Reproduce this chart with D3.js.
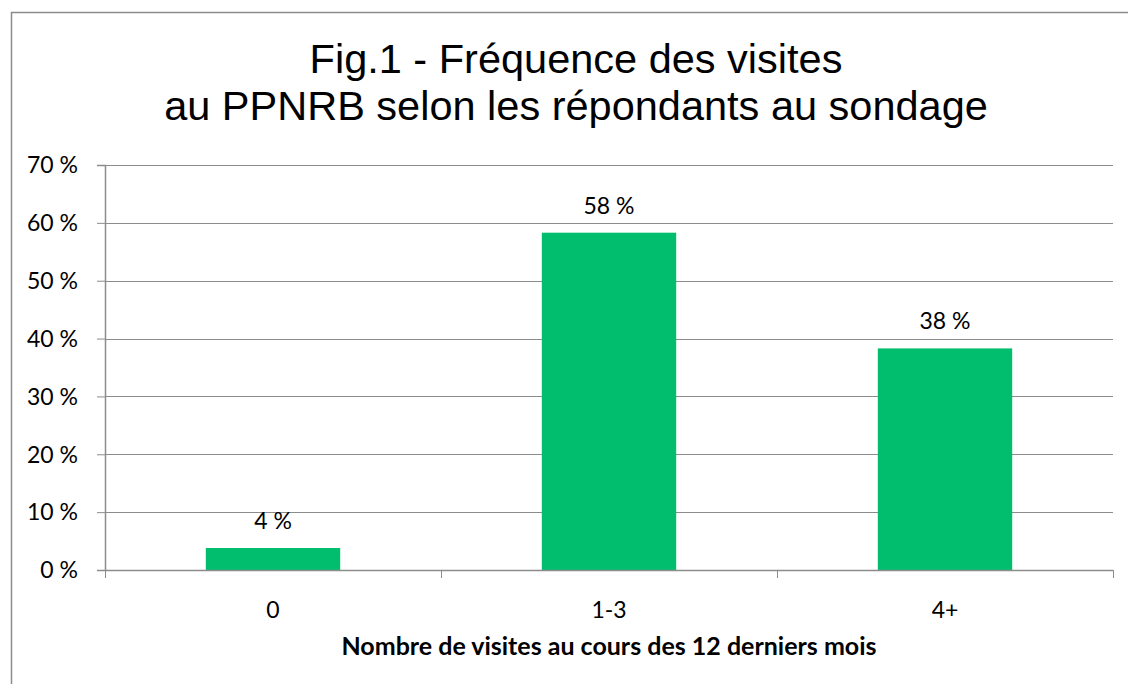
<!DOCTYPE html>
<html>
<head>
<meta charset="utf-8">
<script src="https://cdn.jsdelivr.net/npm/d3@7"></script>
<style>
  html, body { margin: 0; padding: 0; background: #fff; }
  svg { display: block; }
</style>
</head>
<body>
<div id="chart"></div>
<script>
// data
const categories = ['0', '1-3', '4+'];
const values = [3.8, 58.3, 38.3];
const valueLabels = ['4 %', '58 %', '38 %'];
const yTicks = [0, 10, 20, 30, 40, 50, 60, 70];
const titleLines = ['Fig.1 - Fréquence des visites', 'au PPNRB selon les répondants au sondage'];
const xTitle = 'Nombre de visites au cours des 12 derniers mois';

const W = 1128, H = 684;
const margin = { left: 105, right: 15, top: 165, bottom: 114 };
const plotW = W - margin.left - margin.right;
const plotH = H - margin.top - margin.bottom;
const labelFont = 'Lato, Carlito, Calibri, sans-serif';

const svg = d3.select('#chart').append('svg')
    .attr('width', W)
    .attr('height', H);

// chart frame (runs off the right and bottom)
svg.append('path')
    .attr('d', `M11.5,${H + 5} L11.5,12.5 L${W + 5},12.5`)
    .attr('fill', 'none')
    .attr('stroke', '#8c8c8c')
    .attr('stroke-width', 1.5);

// title
svg.append('text')
    .attr('font-family', 'Liberation Sans, Arial, sans-serif')
    .attr('font-size', 41.5)
    .attr('fill', '#000')
    .attr('text-anchor', 'middle')
    .selectAll('tspan')
    .data(titleLines)
    .enter().append('tspan')
    .attr('x', 576)
    .attr('y', (d, i) => 73 + i * 47)
    .text(d => d);

const g = svg.append('g').attr('transform', `translate(${margin.left},${margin.top})`);

const x = d3.scaleBand().domain(categories).range([0, plotW]).paddingInner(0.6).paddingOuter(0.3);
const y = d3.scaleLinear().domain([0, 70]).range([plotH, 0]);

// gridlines
g.append('g')
    .selectAll('line')
    .data(yTicks.filter(d => d > 0))
    .enter().append('line')
    .attr('x1', 0)
    .attr('x2', plotW)
    .attr('y1', d => Math.round(y(d)) + 0.5)
    .attr('y2', d => Math.round(y(d)) + 0.5)
    .attr('stroke', '#8c8c8c')
    .attr('stroke-width', 1);

// y axis
const yAxis = g.append('g')
    .call(d3.axisLeft(y).tickValues(yTicks).tickSize(8).tickPadding(19).tickFormat(d => d + ' %'));
yAxis.select('.domain').attr('stroke', '#8c8c8c').attr('stroke-width', 1.5);
yAxis.selectAll('.tick line').attr('stroke', '#8c8c8c');
yAxis.selectAll('.tick text')
    .attr('font-family', labelFont)
    .attr('font-size', 23)
    .attr('dy', '0.34em')
    .attr('fill', '#000');

// bars
g.append('g')
    .selectAll('rect')
    .data(values)
    .enter().append('rect')
    .attr('x', (d, i) => x(categories[i]))
    .attr('y', d => y(d))
    .attr('width', x.bandwidth())
    .attr('height', d => plotH - y(d))
    .attr('fill', '#00be6e');

// value labels
g.append('g')
    .selectAll('text')
    .data(values)
    .enter().append('text')
    .attr('x', (d, i) => x(categories[i]) + x.bandwidth() / 2)
    .attr('y', d => y(d) - 19)
    .attr('text-anchor', 'middle')
    .attr('font-family', labelFont)
    .attr('font-size', 23)
    .attr('fill', '#000')
    .text((d, i) => valueLabels[i]);

// x axis: ticks at category boundaries
const bounds = d3.range(categories.length + 1).map(i => i * plotW / categories.length);
const xAxis = g.append('g').attr('transform', `translate(0,${plotH})`);
xAxis.append('line')
    .attr('x1', 0).attr('x2', plotW)
    .attr('y1', 0.5).attr('y2', 0.5)
    .attr('stroke', '#8c8c8c')
    .attr('stroke-width', 1.5);
xAxis.selectAll('line.tk')
    .data(bounds)
    .enter().append('line')
    .attr('class', 'tk')
    .attr('x1', d => Math.round(d) + 0.5)
    .attr('x2', d => Math.round(d) + 0.5)
    .attr('y1', 0)
    .attr('y2', 8)
    .attr('stroke', '#8c8c8c');
xAxis.selectAll('text')
    .data(categories)
    .enter().append('text')
    .attr('x', d => x(d) + x.bandwidth() / 2)
    .attr('y', 48)
    .attr('text-anchor', 'middle')
    .attr('font-family', labelFont)
    .attr('font-size', 23)
    .attr('fill', '#000')
    .text(d => d);

// x title
g.append('text')
    .attr('x', plotW / 2)
    .attr('y', plotH + 85)
    .attr('text-anchor', 'middle')
    .attr('font-family', labelFont)
    .attr('font-weight', 'bold')
    .attr('font-size', 25)
    .attr('fill', '#000')
    .text(xTitle);
</script>
</body>
</html>
